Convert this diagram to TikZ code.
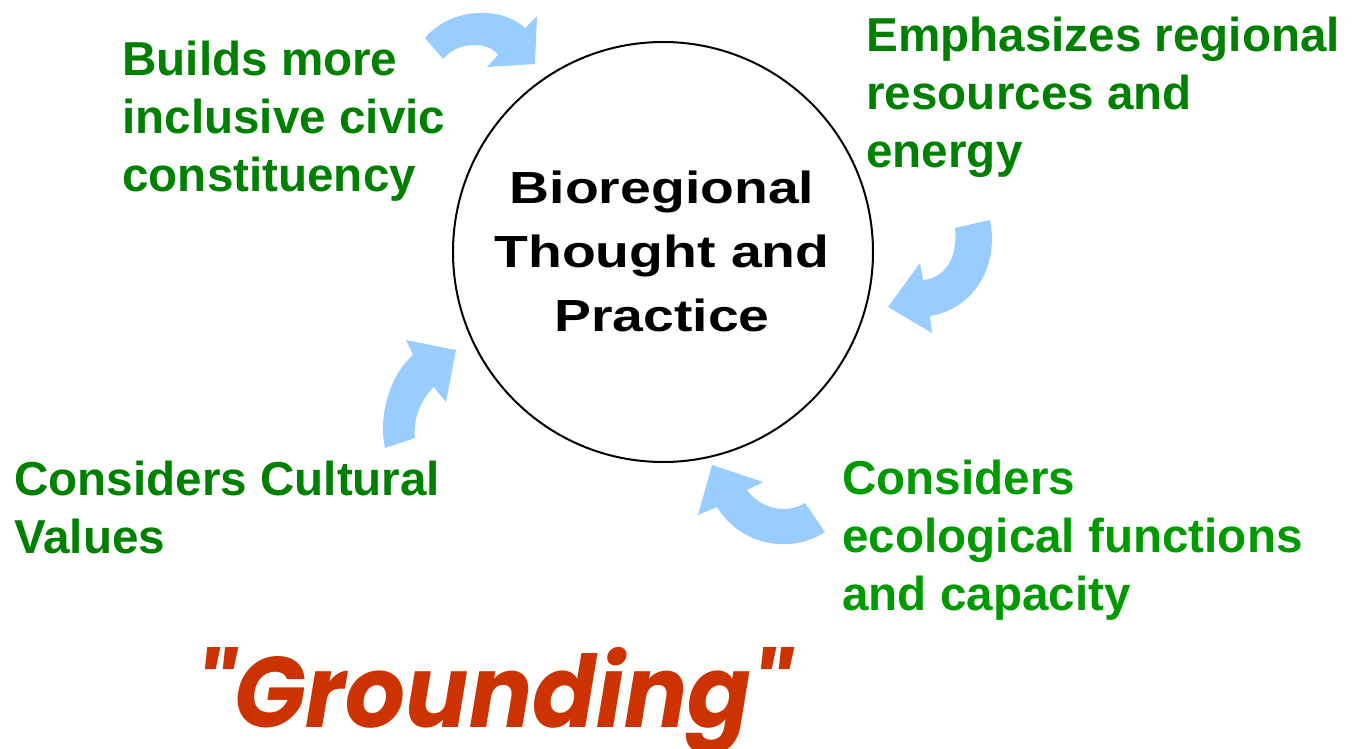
\documentclass[tikz,border=0pt]{standalone}
\usepackage{fontspec}
\setmainfont{Liberation Sans}
\newfontfamily\hubfont[FakeStretch=1.23]{Liberation Sans}
\newfontfamily\groundfont[FakeStretch=0.94]{Poppins}
\usepackage{tikz}
\definecolor{leafgreen}{RGB}{0,128,0}
\definecolor{brightgreen}{RGB}{0,153,0}
\definecolor{skyblue}{RGB}{153,204,255}
\definecolor{brick}{RGB}{204,51,0}
\tikzset{
  note/.style={anchor=north west,inner sep=0pt,align=left,text=leafgreen,
    font=\bfseries\fontsize{23.8}{29}\selectfont},
  hub/.style={circle,draw,line width=1pt,minimum size=210pt,inner sep=0pt},
  hubtext/.style={inner sep=0pt,align=center,font=\hubfont\bfseries\fontsize{22.5}{32}\selectfont},
  turn/.style={fill=skyblue},
}

\begin{document}
\begin{tikzpicture}[x=0.5pt,y=-0.5pt]
\useasboundingbox (0,0) rectangle (1356,749);
\node[hub] (hub) at (663,252) {};
\node[hubtext] (topic) at (662,251) {Bioregional\\Thought and\\Practice};
% the four notes round the circle
\node[note] (civic) at (122,41) {Builds more\\inclusive civic\\constituency};
\node[note] (energy) at (866,17) {Emphasizes regional\\resources and\\energy};
\node[note] (culture) at (14,461) {Considers Cultural\\Values};
\node[note,text=brightgreen] (ecology) at (842,460) {Considers\\ecological functions\\and capacity};
% curved block arrows, clockwise
\fill[turn] (425,38) .. controls (450,8) and (500,5) .. (525,28) -- (537,16) -- (535,64)
  -- (487,67) -- (498,55) .. controls (488,41) and (458,41) .. (443,59) -- cycle;
\fill[turn] (990,220) .. controls (1000,270) and (970,310) .. (930,316) -- (932,333) -- (888,307)
  -- (920,263) -- (923,280) .. controls (945,278) and (958,258) .. (955,228) -- cycle;
\fill[turn] (825,532) .. controls (790,555) and (740,545) .. (717,507) -- (698,515) -- (712,465)
  -- (763,482) -- (747,490) .. controls (760,508) and (785,515) .. (805,503) -- cycle;
\fill[turn] (385,448) .. controls (378,415) and (390,375) .. (413,355) -- (406,340) -- (456,350)
  -- (446,402) -- (434,387) .. controls (420,400) and (413,420) .. (415,438) -- cycle;
\node[anchor=base west,inner sep=0pt,text=brick,
  font=\groundfont\bfseries\itshape\fontsize{50}{52}\selectfont] (grounding) at (195,727) {"Grounding"};
\end{tikzpicture}
\end{document}
